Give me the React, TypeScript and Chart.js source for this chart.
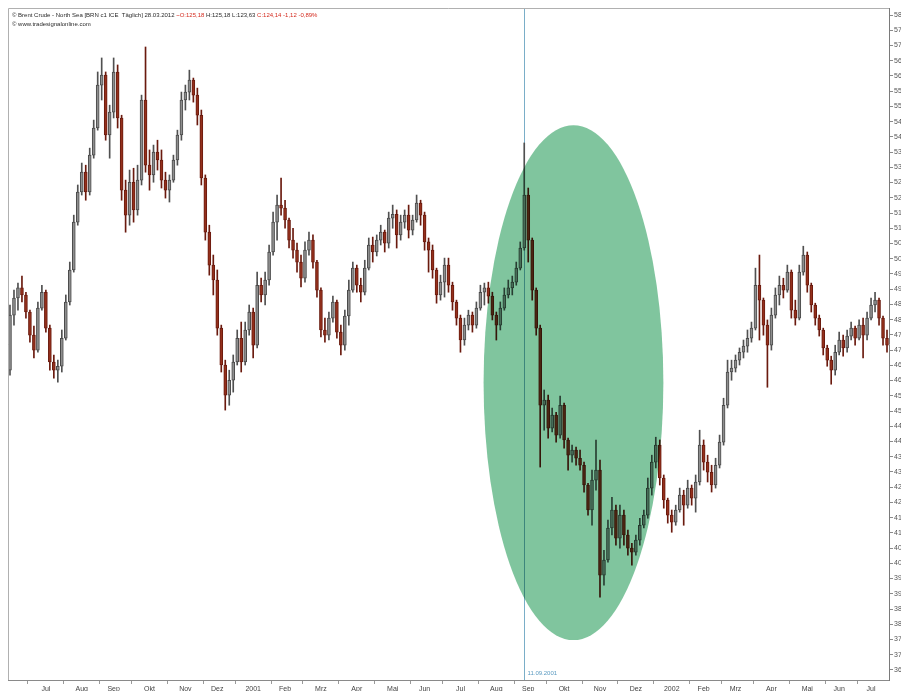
import { useEffect, useRef } from 'react';
import { Chart, registerables } from 'chart.js';
Chart.register(...registerables);

const dates = [
  "15.06.00","19.06.00","22.06.00","26.06.00","29.06.00",
  "03.07.00","06.07.00","10.07.00","13.07.00","17.07.00","20.07.00","24.07.00","27.07.00","31.07.00",
  "03.08.00","07.08.00","10.08.00","14.08.00","17.08.00","21.08.00","24.08.00","28.08.00","31.08.00",
  "04.09.00","07.09.00","11.09.00","14.09.00","18.09.00","21.09.00","25.09.00","28.09.00",
  "02.10.00","05.10.00","09.10.00","12.10.00","16.10.00","19.10.00","23.10.00","26.10.00","30.10.00",
  "02.11.00","06.11.00","09.11.00","13.11.00","16.11.00","20.11.00","23.11.00","27.11.00","30.11.00",
  "04.12.00","07.12.00","11.12.00","14.12.00","18.12.00","21.12.00","25.12.00","28.12.00",
  "01.01.01","04.01.01","08.01.01","11.01.01","15.01.01","18.01.01","22.01.01","25.01.01","29.01.01",
  "01.02.01","05.02.01","08.02.01","12.02.01","15.02.01","19.02.01","22.02.01","26.02.01",
  "01.03.01","05.03.01","08.03.01","12.03.01","15.03.01","19.03.01","22.03.01","26.03.01","29.03.01",
  "02.04.01","05.04.01","09.04.01","12.04.01","16.04.01","19.04.01","23.04.01","26.04.01","30.04.01",
  "03.05.01","07.05.01","10.05.01","14.05.01","17.05.01","21.05.01","24.05.01","28.05.01","31.05.01",
  "04.06.01","07.06.01","11.06.01","14.06.01","18.06.01","21.06.01","25.06.01","28.06.01",
  "02.07.01","05.07.01","09.07.01","12.07.01","16.07.01","19.07.01","23.07.01","26.07.01","30.07.01",
  "02.08.01","06.08.01","09.08.01","13.08.01","16.08.01","20.08.01","23.08.01","27.08.01","30.08.01",
  "03.09.01","06.09.01","10.09.01","13.09.01","17.09.01","20.09.01","24.09.01","27.09.01",
  "01.10.01","04.10.01","08.10.01","11.10.01","15.10.01","18.10.01","22.10.01","25.10.01","29.10.01",
  "01.11.01","05.11.01","08.11.01","12.11.01","15.11.01","19.11.01","22.11.01","26.11.01","29.11.01",
  "03.12.01","06.12.01","10.12.01","13.12.01","17.12.01","20.12.01","24.12.01","27.12.01","31.12.01",
  "03.01.02","07.01.02","10.01.02","14.01.02","17.01.02","21.01.02","24.01.02","28.01.02","31.01.02",
  "04.02.02","07.02.02","11.02.02","14.02.02","18.02.02","21.02.02","25.02.02","28.02.02",
  "04.03.02","07.03.02","11.03.02","14.03.02","18.03.02","21.03.02","25.03.02","28.03.02",
  "01.04.02","04.04.02","08.04.02","11.04.02","15.04.02","18.04.02","22.04.02","25.04.02","29.04.02",
  "02.05.02","06.05.02","09.05.02","13.05.02","16.05.02","20.05.02","23.05.02","27.05.02","30.05.02",
  "03.06.02","06.06.02","10.06.02","13.06.02","17.06.02","20.06.02","24.06.02","27.06.02",
  "01.07.02","04.07.02","08.07.02","11.07.02","15.07.02","18.07.02","22.07.02","25.07.02"
];

const openV = [
  46.34,48.15,48.71,49.04,48.81,48.25,47.49,47.00,48.38,48.90,
  47.72,46.61,46.34,46.47,47.39,48.58,49.63,51.20,52.19,52.84,
  52.19,53.40,54.29,55.70,56.03,54.06,54.81,56.13,54.62,52.25,
  51.43,52.51,51.60,52.58,55.21,53.07,52.75,53.50,53.24,52.58,
  52.25,52.58,53.24,54.06,55.21,55.47,55.86,55.37,54.71,52.65,
  50.87,49.79,49.30,47.72,46.51,45.52,46.01,46.61,47.39,46.61,
  47.66,48.25,47.16,49.13,48.81,49.30,50.22,51.20,51.76,51.66,
  51.27,50.61,50.28,49.89,49.36,50.28,50.61,49.89,48.97,47.66,
  47.49,48.05,48.58,47.59,47.16,48.12,48.97,49.69,49.13,48.90,
  49.69,50.45,50.22,50.61,50.87,50.51,51.33,51.46,50.78,51.20,
  51.43,50.94,51.27,51.83,51.43,50.55,50.28,49.63,48.81,49.23,
  49.79,49.13,48.58,48.05,47.33,47.82,48.15,47.82,48.38,48.90,
  49.04,48.77,48.15,47.82,48.38,48.81,49.04,49.23,49.69,50.35,
  52.09,50.61,48.97,47.72,45.19,45.36,44.44,44.87,44.21,45.19,
  44.05,43.55,43.72,43.45,43.22,42.57,41.75,42.73,43.06,39.61,
  40.11,41.16,41.75,40.83,41.58,40.93,40.50,40.37,40.76,41.25,
  41.58,42.47,43.32,43.88,42.80,42.08,41.58,41.35,41.75,42.24,
  41.91,42.47,42.14,42.67,43.88,43.32,42.99,42.57,43.22,43.98,
  45.19,46.28,46.41,46.67,46.93,47.13,47.39,47.72,49.13,48.64,
  47.82,47.16,48.15,48.81,49.13,48.97,49.56,48.31,48.05,49.56,
  50.12,49.13,48.48,48.05,47.66,47.07,46.67,46.34,46.93,47.33,
  47.07,47.46,47.72,47.39,47.82,47.49,48.05,48.48,48.64,48.05,
  47.39
];

const highV = [
  48.48,48.97,49.20,49.43,48.90,48.31,47.79,48.58,49.13,48.97,
  47.82,46.84,46.67,47.66,48.81,49.89,51.43,52.42,53.14,53.07,
  53.63,54.55,56.13,56.59,56.13,55.04,56.59,56.36,54.71,52.58,
  52.91,52.97,53.07,55.37,56.95,53.57,53.73,53.89,53.57,52.84,
  52.75,53.40,54.22,55.47,55.70,56.19,55.93,55.60,54.88,52.75,
  51.10,50.12,49.63,47.82,46.67,46.34,46.84,47.66,47.92,47.92,
  48.48,48.38,49.56,49.36,49.56,50.45,51.53,52.09,52.65,51.92,
  51.33,51.00,50.51,50.12,50.55,50.87,50.78,49.95,49.04,48.05,
  48.25,48.77,48.64,47.82,48.31,49.30,49.89,49.79,49.36,49.95,
  50.68,50.71,50.78,51.10,50.94,51.53,51.76,51.60,51.43,51.60,
  51.76,51.43,52.09,51.92,51.53,50.68,50.45,49.69,49.46,50.02,
  50.02,49.23,48.64,48.15,48.05,48.31,48.25,48.58,49.13,49.20,
  49.23,48.90,48.25,48.58,49.04,49.30,49.43,49.89,50.55,53.80,
  52.32,50.68,49.04,47.82,45.69,45.52,45.10,44.96,45.49,45.26,
  44.11,43.88,43.82,43.72,43.32,42.63,43.06,44.05,43.39,40.43,
  41.42,42.17,41.91,41.91,41.75,41.09,40.66,40.93,41.48,41.75,
  42.80,43.55,44.14,44.05,42.90,42.14,41.75,41.91,42.47,42.40,
  42.73,42.57,42.90,44.37,44.05,43.55,43.22,43.45,44.21,45.42,
  46.67,46.67,46.84,47.07,47.33,47.66,47.92,49.69,50.12,48.71,
  47.99,48.38,49.04,49.43,49.36,49.79,49.63,48.64,49.79,50.41,
  50.22,49.20,48.54,48.15,47.72,47.16,46.80,47.16,47.59,47.49,
  47.66,47.92,47.79,47.99,48.05,48.25,48.71,48.90,48.71,48.12,
  47.66
];

const lowV = [
  46.18,47.82,48.31,48.58,48.05,47.26,46.74,46.93,48.31,47.59,
  46.34,46.08,45.95,46.28,47.33,48.48,49.56,51.10,52.09,51.92,
  52.09,53.30,54.22,55.21,53.89,53.30,54.62,54.29,51.92,50.87,
  51.10,51.20,51.43,52.42,52.84,52.25,52.51,52.91,52.32,51.99,
  51.86,52.51,53.07,53.89,54.88,55.21,55.14,54.39,52.42,50.61,
  49.46,48.81,47.49,46.28,45.03,45.19,45.62,46.51,46.28,46.51,
  47.49,46.74,47.07,48.58,48.48,49.13,50.12,50.61,51.43,51.00,
  50.35,50.02,49.56,49.07,49.23,50.12,49.69,48.74,47.43,47.26,
  47.33,47.92,47.39,46.84,47.00,47.82,48.90,48.90,48.58,48.81,
  49.63,49.89,50.09,50.45,50.22,50.35,51.00,50.35,50.61,51.00,
  50.68,50.78,51.20,51.10,50.28,49.56,49.36,48.54,48.64,48.74,
  48.90,48.31,47.82,46.93,47.16,47.66,47.59,47.72,48.31,48.48,
  48.54,47.99,47.33,47.66,48.31,48.71,48.81,49.13,49.63,50.28,
  49.89,48.64,47.49,43.16,44.37,44.11,44.31,43.98,44.11,43.78,
  43.06,43.32,43.22,43.06,42.34,41.58,41.25,42.40,38.89,39.28,
  40.04,40.93,40.60,40.50,40.60,40.27,39.94,40.27,40.60,41.16,
  41.48,42.24,43.13,42.57,41.81,41.32,41.02,41.25,41.68,41.25,
  41.81,41.91,41.68,42.57,43.06,42.67,42.34,42.47,43.13,43.88,
  45.10,46.01,46.28,46.51,46.74,46.93,47.26,47.66,47.33,47.49,
  45.78,47.00,48.05,48.48,48.71,48.90,48.05,47.82,47.99,49.46,
  48.90,48.25,47.82,47.46,46.84,46.47,45.88,46.18,46.84,46.80,
  46.93,47.33,47.16,47.33,46.74,47.33,47.99,48.25,47.82,47.16,
  46.93
];

const closeV = [
  48.15,48.71,49.04,48.81,48.25,47.49,47.00,48.38,48.90,47.72,
  46.61,46.34,46.47,47.39,48.58,49.63,51.20,52.19,52.84,52.19,
  53.40,54.29,55.70,56.03,54.06,54.81,56.13,54.62,52.25,51.43,
  52.51,51.60,52.58,55.21,53.07,52.75,53.50,53.24,52.58,52.25,
  52.58,53.24,54.06,55.21,55.47,55.86,55.37,54.71,52.65,50.87,
  49.79,49.30,47.72,46.51,45.52,46.01,46.61,47.39,46.61,47.66,
  48.25,47.16,49.13,48.81,49.30,50.22,51.20,51.76,51.66,51.27,
  50.61,50.28,49.89,49.36,50.28,50.61,49.89,48.97,47.66,47.49,
  48.05,48.58,47.59,47.16,48.12,48.97,49.69,49.13,48.90,49.69,
  50.45,50.22,50.61,50.87,50.51,51.33,51.46,50.78,51.20,51.43,
  50.94,51.27,51.83,51.43,50.55,50.28,49.63,48.81,49.23,49.79,
  49.13,48.58,48.05,47.33,47.82,48.15,47.82,48.38,48.90,49.04,
  48.77,48.15,47.82,48.38,48.81,49.04,49.23,49.69,50.35,52.09,
  50.61,48.97,47.72,45.19,45.36,44.44,44.87,44.21,45.19,44.05,
  43.55,43.72,43.45,43.22,42.57,41.75,42.73,43.06,39.61,40.11,
  41.16,41.75,40.83,41.58,40.93,40.50,40.37,40.76,41.25,41.58,
  42.47,43.32,43.88,42.80,42.08,41.58,41.35,41.75,42.24,41.91,
  42.47,42.14,42.67,43.88,43.32,42.99,42.57,43.22,43.98,45.19,
  46.28,46.41,46.67,46.93,47.13,47.39,47.72,49.13,48.64,47.82,
  47.16,48.15,48.81,49.13,48.97,49.56,48.31,48.05,49.56,50.12,
  49.13,48.48,48.05,47.66,47.07,46.67,46.34,46.93,47.33,47.07,
  47.46,47.72,47.39,47.82,47.49,48.05,48.48,48.64,48.05,47.39,
  47.16
];

const yTickValues = [
  58, 57.5, 57, 56.5, 56, 55.5, 55, 54.5, 54, 53.5, 53, 52.5, 52, 51.5, 51, 50.5,
  50, 49.5, 49, 48.5, 48, 47.5, 47, 46.5, 46, 45.5, 45, 44.5, 44, 43.5, 43, 42.5,
  42, 41.5, 41, 40.5, 40, 39.5, 39, 38.5, 38, 37.5, 37, 36.5
];

const monthNames = ["Jan", "Feb", "Mrz", "Apr", "Mai", "Jun", "Jul", "Aug", "Sep", "Okt", "Nov", "Dez"];

const headerParts = [
  { text: "\u00a9 Brent Crude - North Sea [BRN c1 ICE  T\u00e4glich] 28.03.2012 ", color: "#2a2a2a" },
  { text: "~O:125,18 ", color: "#d42a1e" },
  { text: "H:125,18 L:123,63 ", color: "#2a2a2a" },
  { text: "C:124,14 -1,12 -0,89%", color: "#d42a1e" },
];
const headerLine2 = "\u00a9 www.tradesignalonline.com";

const markerDate = "10.09.01";
const markerLabel = "11.09.2001";

// highlighted zone in data units (category index span, price span)
const highlight = { start: 118.8, end: 163.9, low: 37.48, high: 54.38 };

const Y_MIN = 36.17;
const Y_MAX = 58.23;

export default function App() {
  const ref = useRef<HTMLCanvasElement | null>(null);

  useEffect(() => {
    if (!ref.current) return;

    const monthKey = (d: string) => d.slice(3);
    const isMonthStart: boolean[] = dates.map((d, i) => i > 0 && monthKey(d) !== monthKey(dates[i - 1]));
    const tickLabelAt: Record<number, string> = {};
    let s = 0;
    for (let i = 1; i <= dates.length; i++) {
      if (i === dates.length || monthKey(dates[i]) !== monthKey(dates[s])) {
        const count = i - s;
        if (count >= 6) {
          const mid = Math.floor((s + i - 1) / 2);
          const m = parseInt(dates[s].slice(3, 5), 10);
          const yy = dates[s].slice(6);
          tickLabelAt[mid] = m === 1 ? "20" + yy : monthNames[m - 1];
        }
        s = i;
      }
    }

    const up = closeV.map((c, i) => c >= openV[i]);
    const bodies = openV.map((o, i) => [o, closeV[i]]);
    const wicks = lowV.map((l, i) => [l, highV[i]]);

    const overlay = {
      id: 'overlay',
      beforeDraw(chart: any) {
        const { ctx } = chart;
        ctx.save();
        ctx.fillStyle = '#ffffff';
        ctx.fillRect(0, 0, chart.width, chart.height);
        ctx.restore();
      },
      beforeDatasetsDraw(chart: any) {
        const { ctx, chartArea: a, scales } = chart;
        const x = scales.x;
        const mi = dates.indexOf(markerDate);
        const mx = Math.round(x.getPixelForValue(mi)) + 0.5;
        ctx.save();
        ctx.strokeStyle = '#7aaec8';
        ctx.lineWidth = 1;
        ctx.beginPath();
        ctx.moveTo(mx, a.top);
        ctx.lineTo(mx, a.bottom);
        ctx.stroke();
        ctx.font = '6px "Liberation Sans"';
        ctx.fillStyle = '#5a9ac0';
        ctx.textBaseline = 'alphabetic';
        ctx.textAlign = 'left';
        ctx.fillText(markerLabel, mx + 3, a.bottom - 5);
        ctx.restore();
      },
      afterDatasetsDraw(chart: any) {
        const { ctx, scales } = chart;
        const x = scales.x, y = scales.y;
        const x1 = x.getPixelForValue(highlight.start);
        const x2 = x.getPixelForValue(highlight.end);
        const y1 = y.getPixelForValue(highlight.high);
        const y2 = y.getPixelForValue(highlight.low);
        ctx.save();
        ctx.globalCompositeOperation = 'multiply';
        ctx.fillStyle = '#80c59e';
        ctx.beginPath();
        ctx.ellipse((x1 + x2) / 2, (y1 + y2) / 2, (x2 - x1) / 2, (y2 - y1) / 2, 0, 0, Math.PI * 2);
        ctx.fill();
        ctx.restore();
      },
      afterDraw(chart: any) {
        const { ctx, chartArea: a } = chart;
        ctx.save();
        ctx.strokeStyle = '#b0b0b0';
        ctx.lineWidth = 1;
        ctx.beginPath();
        ctx.moveTo(a.left + 0.5, a.bottom);
        ctx.lineTo(a.left + 0.5, a.top + 0.5);
        ctx.lineTo(a.right, a.top + 0.5);
        ctx.stroke();
        ctx.font = '6px "Liberation Sans"';
        ctx.textBaseline = 'alphabetic';
        ctx.textAlign = 'left';
        let tx = a.left + 4;
        for (const p of headerParts) {
          ctx.fillStyle = p.color;
          ctx.fillText(p.text, tx, a.top + 9);
          tx += ctx.measureText(p.text).width;
        }
        ctx.fillStyle = '#2a2a2a';
        ctx.fillText(headerLine2, a.left + 4, a.top + 18);
        ctx.restore();
      },
    };

    const chart = new Chart(ref.current, {
      type: 'bar',
      data: {
        labels: dates,
        datasets: [
          {
            label: 'body',
            data: bodies as any,
            backgroundColor: up.map(u => (u ? '#8e8e8e' : '#94301c')),
            borderColor: up.map(u => (u ? '#4a4a4a' : '#6a1a0e')),
            borderWidth: 1,
            borderSkipped: false,
            barThickness: 3,
            grouped: false,
            order: 0,
          } as any,
          {
            label: 'wick',
            data: wicks as any,
            backgroundColor: up.map(u => (u ? '#505050' : '#6a1a0e')),
            borderWidth: 0,
            barThickness: 1,
            grouped: false,
            order: 1,
          } as any,
        ],
      },
      options: {
        responsive: false,
        animation: false,
        devicePixelRatio: 1,
        layout: { padding: 0 },
        plugins: { legend: { display: false }, tooltip: { enabled: false }, title: { display: false } },
        scales: {
          x: {
            type: 'category',
            offset: true,
            grid: {
              offset: true,
              drawOnChartArea: false,
              drawTicks: true,
              tickLength: 4,
              color: (c: any) => (isMonthStart[c.index] ? '#9a9a9a' : 'rgba(0,0,0,0)'),
            },
            border: { display: true, color: '#8a8a8a', width: 1 },
            ticks: {
              autoSkip: false,
              maxRotation: 0,
              minRotation: 0,
              padding: 1,
              color: '#444',
              font: { family: 'Liberation Sans', size: 7 },
              callback: (_v: any, i: number) => tickLabelAt[i] ?? '',
            },
            afterFit: (scale: any) => {
              scale.height = 20;
              scale.paddingLeft = 0;
              scale.paddingRight = 0;
            },
          },
          y: {
            type: 'linear',
            position: 'right',
            min: Y_MIN,
            max: Y_MAX,
            grid: { drawOnChartArea: false, drawTicks: true, tickLength: 4, color: '#8a8a8a' },
            border: { display: true, color: '#7a7a7a', width: 1 },
            ticks: {
              autoSkip: false,
              padding: 1,
              color: '#555',
              font: { family: 'Liberation Sans', size: 7 },
              callback: (v: any) => Number(v).toFixed(2).replace('.', ','),
            },
            afterBuildTicks: (scale: any) => {
              scale.ticks = yTickValues.map(value => ({ value }));
            },
            afterFit: (scale: any) => {
              scale.width = 30;
              scale.paddingTop = 0;
              scale.paddingBottom = 0;
            },
          },
        },
      },
      plugins: [overlay],
    });

    return () => chart.destroy();
  }, []);

  return (
    <div style={{ position: 'fixed', left: 0, top: 0, width: 901, height: 691, overflow: 'hidden', background: '#ffffff' }}>
      <div style={{ position: 'absolute', left: 8, top: 8, width: 911, height: 692 }}>
        <canvas ref={ref} width={911} height={692} style={{ display: 'block', width: 911, height: 692 }} />
      </div>
    </div>
  );
}
